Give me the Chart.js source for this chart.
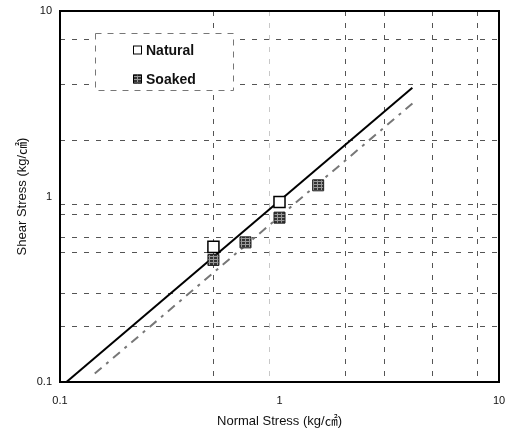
<!DOCTYPE html>
<html lang="en">
<head>
    <meta charset="UTF-8">
    <title>Shear Stress vs Normal Stress</title>
    <script src="https://cdn.jsdelivr.net/npm/chart.js"></script>
    <style>
        html, body { margin: 0; padding: 0; background: #fff; }
        #wrap { width: 511px; height: 435px; }
    </style>
</head>
<body>
    <div id="wrap"><canvas id="stressChart" width="511" height="435"></canvas></div>
    <script>
        // measured points (kg/cm2)
        const naturalX = [0.5, 1.0];
        const naturalY = [0.535, 0.933];
        const soakedX = [0.5, 0.7, 1.0, 1.5];
        const soakedY = [0.455, 0.566, 0.769, 1.149];

        // fitted envelopes, end points
        const naturalFitX = [0.107, 4.03];
        const naturalFitY = [0.1, 3.86];
        const soakedFitX = [0.144, 4.04];
        const soakedFitY = [0.111, 3.18];

        // grid positions and labelled ticks
        const xGridTicks = [0.1, 0.5, 0.9, 1, 2, 3, 5, 8, 10];
        const yGridTicks = [0.1, 0.2, 0.3, 0.5, 0.6, 0.8, 0.9, 1, 2, 4, 7, 10];
        const labelTicks = [0.1, 1, 10];
        const faintTicks = [0.9];

        const FONT = "'Liberation Sans', Arial, 'Noto Sans CJK KR', sans-serif";

        const toPoints = (xs, ys) => xs.map((x, i) => ({ x: x, y: ys[i] }));

        // dark hatched fill for the soaked markers
        function makeHatch() {
            const c = document.createElement('canvas');
            c.width = 4; c.height = 3;
            const g = c.getContext('2d');
            g.fillStyle = '#333';
            g.fillRect(0, 0, 4, 3);
            g.fillStyle = '#999';
            g.fillRect(0, 1, 4, 1);
            g.fillRect(1, 0, 1, 3);
            return g.createPattern(c, 'repeat');
        }
        const hatch = makeHatch();

        // frame round the plot area + dashed legend box inside it
        const framePlugin = {
            id: 'frameAndLegend',
            afterDraw(chart) {
                const { ctx, chartArea: a } = chart;
                ctx.save();
                ctx.strokeStyle = '#000';
                ctx.lineWidth = 2;
                ctx.strokeRect(a.left, a.top, a.right - a.left, a.bottom - a.top);

                // legend
                const bx = 95, by = 33, bw = 138, bh = 57;
                ctx.fillStyle = '#fff';
                ctx.fillRect(bx, by, bw, bh);
                ctx.setLineDash([6, 6]);
                ctx.lineWidth = 1;
                ctx.strokeStyle = '#777';
                ctx.strokeRect(bx + 0.5, by + 0.5, bw, bh);
                ctx.setLineDash([]);

                const items = chart.data.datasets.filter(d => d.inLegend);
                items.forEach((d, i) => {
                    const cy = 50 + i * 29;
                    ctx.fillStyle = d.pointBackgroundColor;
                    ctx.fillRect(133, cy - 4.5, 9, 9);
                    ctx.strokeStyle = '#000';
                    ctx.lineWidth = 1;
                    ctx.strokeRect(133.5, cy - 4, 8, 8);
                    ctx.fillStyle = '#111';
                    ctx.font = 'bold 14px ' + FONT;
                    ctx.textBaseline = 'middle';
                    ctx.textAlign = 'left';
                    ctx.fillText(d.label, 146, cy + 1);
                });
                ctx.restore();
            }
        };

        const gridColor = axis => ctx => {
            const v = ctx.tick && ctx.tick.value;
            if (labelTicks.includes(v)) return 'rgba(0,0,0,0)';
            if (axis === 'x' && faintTicks.includes(v)) return '#c8c8c8';
            return '#555';
        };

        new Chart(document.getElementById('stressChart'), {
            type: 'scatter',
            data: {
                datasets: [
                    {
                        label: 'Natural',
                        inLegend: true,
                        data: toPoints(naturalX, naturalY),
                        pointStyle: 'rect',
                        pointRadius: 7.8,
                        pointBackgroundColor: '#fff',
                        pointBorderColor: '#000',
                        pointBorderWidth: 1.5
                    },
                    {
                        label: 'Soaked',
                        inLegend: true,
                        data: toPoints(soakedX, soakedY),
                        pointStyle: 'rect',
                        pointRadius: 7.8,
                        pointBackgroundColor: hatch,
                        pointBorderColor: '#222',
                        pointBorderWidth: 1
                    },
                    {
                        label: 'Natural fit',
                        data: toPoints(naturalFitX, naturalFitY),
                        showLine: true,
                        borderColor: '#000',
                        borderWidth: 2,
                        pointRadius: 0
                    },
                    {
                        label: 'Soaked fit',
                        data: toPoints(soakedFitX, soakedFitY),
                        showLine: true,
                        borderColor: '#777',
                        borderWidth: 2,
                        borderDash: [9, 6, 3, 6],
                        pointRadius: 0
                    }
                ]
            },
            options: {
                responsive: false,
                animation: false,
                layout: { padding: { left: 0, top: 11, right: 12, bottom: 0 } },
                plugins: {
                    legend: { display: false },
                    tooltip: { enabled: false }
                },
                scales: {
                    x: {
                        type: 'logarithmic',
                        min: 0.1,
                        max: 10,
                        afterBuildTicks: s => { s.ticks = xGridTicks.map(v => ({ value: v })); },
                        afterFit: s => { s.height = 53; s.paddingLeft = 0; s.paddingRight = 0; },
                        grid: { color: gridColor('x'), lineWidth: 1, drawTicks: false },
                        border: { display: false, dash: [5, 7] },
                        ticks: {
                            autoSkip: false,
                            maxRotation: 0,
                            padding: 12,
                            color: '#111',
                            font: { family: FONT, size: 11 },
                            callback: v => labelTicks.includes(v) ? String(v) : ''
                        },
                        title: {
                            display: true,
                            text: 'Normal Stress (kg/㎠)',
                            color: '#111',
                            font: { family: FONT, size: 13 },
                            padding: { top: 0, bottom: 6 }
                        }
                    },
                    y: {
                        type: 'logarithmic',
                        min: 0.1,
                        max: 10,
                        afterBuildTicks: s => { s.ticks = yGridTicks.map(v => ({ value: v })); },
                        afterFit: s => { s.width = 60; s.paddingTop = 0; s.paddingBottom = 0; },
                        grid: { color: gridColor('y'), lineWidth: 1, drawTicks: false },
                        border: { display: false, dash: [5, 7] },
                        ticks: {
                            autoSkip: false,
                            padding: 8,
                            color: '#111',
                            font: { family: FONT, size: 11 },
                            callback: v => labelTicks.includes(v) ? String(v) : ''
                        },
                        title: {
                            display: true,
                            text: 'Shear Stress (kg/㎠)',
                            color: '#111',
                            font: { family: FONT, size: 13 },
                            padding: { top: 15, bottom: 0 }
                        }
                    }
                }
            },
            plugins: [framePlugin]
        });
    </script>
</body>
</html>
